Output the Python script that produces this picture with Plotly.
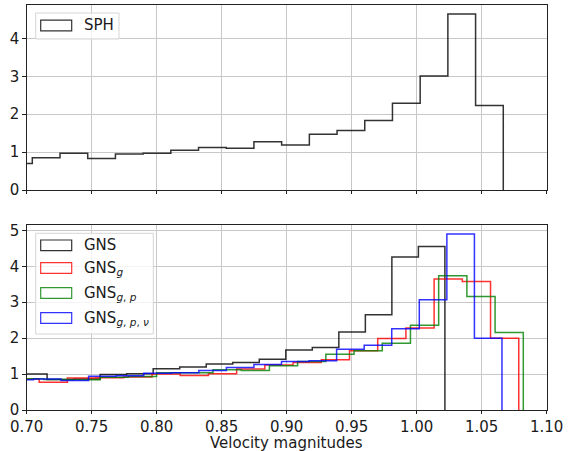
import numpy as np
import plotly.graph_objects as go

# Histogram densities of velocity magnitudes
sph_lo, sph_hi = 0.6830, 1.0666
sph_vals = [0.70, 0.85, 0.97, 0.83, 0.95, 0.97, 1.05, 1.12, 1.10, 1.27,
            1.19, 1.47, 1.57, 1.83, 2.29, 3.01, 4.64, 2.23]

gns_lo, gns_hi = 0.6953, 1.0217
gns_vals = [1.00, 0.85, 0.86, 0.99, 1.01, 1.15, 1.20, 1.28, 1.32, 1.41,
            1.67, 1.74, 2.17, 2.65, 4.26, 4.55]

gns_g_lo, gns_g_hi = 0.6879, 1.0785
gns_g_vals = [0.86, 0.77, 0.89, 0.90, 0.92, 1.00, 0.96, 1.01, 1.14, 1.25,
              1.32, 1.40, 1.65, 1.99, 2.28, 3.65, 3.58, 2.00]

gns_gp_lo, gns_gp_hi = 0.6914, 1.0820
gns_gp_vals = [0.87, 0.85, 0.84, 0.91, 0.93, 1.04, 1.04, 1.12, 1.10, 1.23,
               1.35, 1.55, 1.65, 1.86, 2.36, 3.74, 3.16, 2.16]

gns_gpn_lo, gns_gpn_hi = 0.6840, 1.0656
gns_gpn_vals = [0.84, 0.86, 0.82, 0.94, 0.95, 1.02, 1.04, 1.10, 1.18, 1.27,
                1.35, 1.37, 1.69, 1.80, 2.26, 3.07, 4.90, 2.00]

x_range = [0.70, 1.10]
x_ticks = [0.70, 0.75, 0.80, 0.85, 0.90, 0.95, 1.00, 1.05, 1.10]

W, H = 568, 451
FONT = "DejaVu Sans"
FS = 15
TXT = "#1a1a1a"


def step_trace(lo, hi, vals, color, xaxis, yaxis):
    edges = np.linspace(lo, hi, len(vals) + 1)
    xs = [edges[0]] + list(edges)
    ys = [0.0] + list(vals) + [0.0]
    return go.Scatter(x=xs, y=ys, mode="lines", line=dict(color=color, width=1.5, shape="hv"),
                      opacity=0.8, xaxis=xaxis, yaxis=yaxis, showlegend=False, hoverinfo="skip")


fig = go.Figure()
fig.add_trace(step_trace(sph_lo, sph_hi, sph_vals, "black", "x", "y"))
fig.add_trace(step_trace(gns_lo, gns_hi, gns_vals, "black", "x2", "y2"))
fig.add_trace(step_trace(gns_g_lo, gns_g_hi, gns_g_vals, "#ff0000", "x2", "y2"))
fig.add_trace(step_trace(gns_gp_lo, gns_gp_hi, gns_gp_vals, "#008000", "x2", "y2"))
fig.add_trace(step_trace(gns_gpn_lo, gns_gpn_hi, gns_gpn_vals, "#0000ff", "x2", "y2"))


def px(x):
    return x / W


def py(y):
    return 1 - y / H


x_dom = [px(26.7), px(546.7)]
top_dom = [py(190), py(5)]
bot_dom = [py(410), py(225)]

axis_common = dict(
    showline=True, linecolor="#222", linewidth=0.9, mirror=True,
    showgrid=True, gridcolor="#c8c8c8", gridwidth=0.9,
    ticks="outside", ticklen=3.5, tickwidth=0.9, tickcolor="#222",
    zeroline=False, automargin=False,
    tickfont=dict(family=FONT, size=FS, color=TXT),
)

fig.update_layout(
    width=W, height=H, margin=dict(l=0, r=0, t=0, b=0, autoexpand=False),
    plot_bgcolor="white", paper_bgcolor="white",
    font=dict(family=FONT, size=FS, color=TXT),
    xaxis=dict(domain=x_dom, range=x_range, anchor="y", tickvals=x_ticks,
               showticklabels=False, **axis_common),
    yaxis=dict(domain=top_dom, range=[0, 4.88], anchor="x", tickvals=[0, 1, 2, 3, 4], **axis_common),
    xaxis2=dict(domain=x_dom, range=x_range, anchor="y2", tickvals=x_ticks,
                ticktext=[f"{v:.2f}" for v in x_ticks], **axis_common),
    yaxis2=dict(domain=bot_dom, range=[0, 5.15], anchor="x2", tickvals=[0, 1, 2, 3, 4, 5], **axis_common),
)

# Legend boxes drawn in paper space
shapes = []
annotations = []

# x-axis caption under the lower panel
annotations.append(dict(xref="paper", yref="paper", x=(x_dom[0] + x_dom[1]) / 2, y=py(443),
                        xanchor="center", yanchor="middle", showarrow=False,
                        text="Velocity magnitudes", font=dict(family=FONT, size=FS, color=TXT)))


def legend_frame(x0, y0, x1, y1):
    shapes.append(dict(type="rect", xref="paper", yref="paper",
                       x0=px(x0), x1=px(x1), y0=py(y1), y1=py(y0),
                       line=dict(color="#d5d5d5", width=1), fillcolor="rgba(255,255,255,0.8)",
                       layer="above"))


def legend_entry(yc, color, label):
    shapes.append(dict(type="rect", xref="paper", yref="paper",
                       x0=px(40.7), x1=px(71.7), y0=py(yc + 5.3), y1=py(yc - 5.3),
                       line=dict(color=color, width=1.2), fillcolor="rgba(0,0,0,0)",
                       opacity=0.8, layer="above"))
    annotations.append(dict(xref="paper", yref="paper", x=px(82), y=py(yc),
                            xanchor="left", yanchor="middle", showarrow=False,
                            text=label, font=dict(family=FONT, size=FS, color=TXT)))


legend_frame(35.7, 13, 119, 39)
legend_entry(25.5, "black", "SPH")

legend_frame(35.7, 233.3, 153.3, 334)
legend_entry(245.3, "black", "GNS")
legend_entry(268, "#ff0000", "GNS<sub><i>g</i></sub>")
legend_entry(293, "#008000", "GNS<sub><i>g</i>, <i>p</i></sub>")
legend_entry(318, "#0000ff", "GNS<sub><i>g</i>, <i>p</i>, <i>ν</i></sub>")

fig.update_layout(shapes=shapes, annotations=annotations)

fig.write_html("out.html")
